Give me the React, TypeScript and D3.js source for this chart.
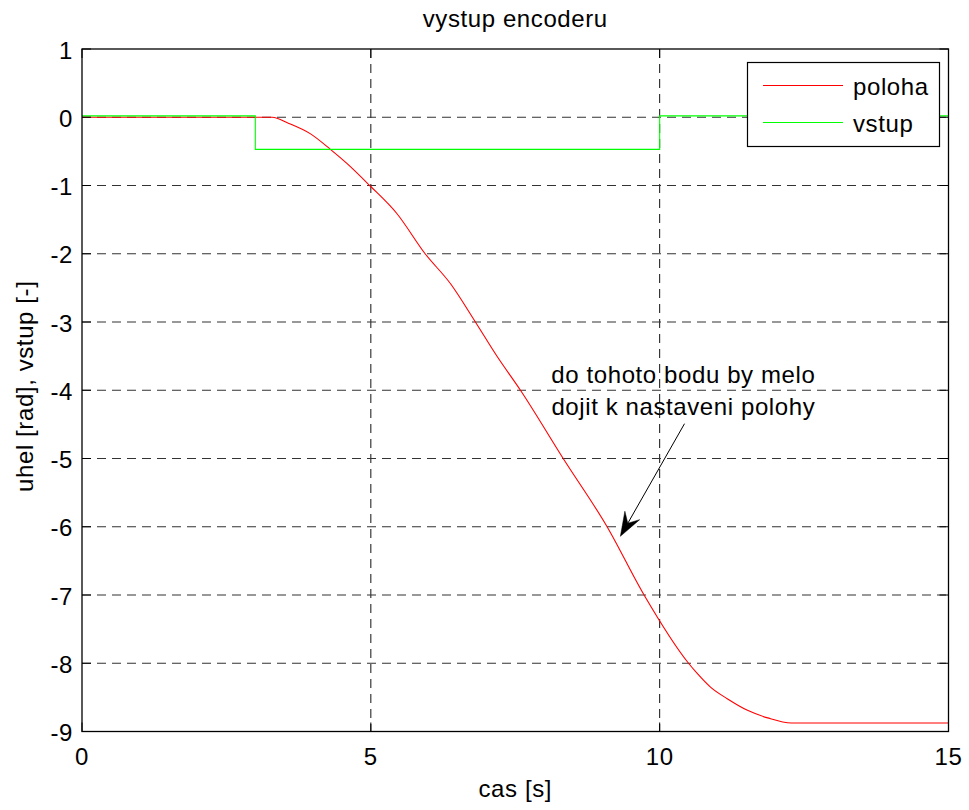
import React from "react";
import * as d3 from "d3";

// ---- data ----
const polohaT = [0, 3.29, 3.58, 3.95, 4.3, 4.59, 4.98, 5.45, 5.94, 6.38, 6.81, 7.19, 7.59, 8.33, 9.09, 9.73, 10.5, 10.65, 10.88, 11.17, 11.52, 11.87, 12.28, 15];
const polohaV = [0, 0, -0.09, -0.24, -0.47, -0.68, -1.0, -1.41, -2.0, -2.44, -3.0, -3.51, -4.0, -5.0, -6.0, -7.0, -8.0, -8.15, -8.35, -8.52, -8.69, -8.8, -8.875, -8.875];
const vstupT = [0, 3, 3, 10, 10, 15];
const vstupV = [0.02, 0.02, -0.47, -0.47, 0.02, 0.02];
const xTicks = [0, 5, 10, 15];
const yTicks = [-9, -8, -7, -6, -5, -4, -3, -2, -1, 0, 1];
const titleText = "vystup encoderu";
const xLabel = "cas [s]";
const yLabel = "uhel [rad], vstup [-]";
const legendLabels = ["poloha", "vstup"];
const annotationLines = ["do tohoto bodu by melo", "dojit k nastaveni polohy"];
const annotationTextPos = [10.41, -3.9]; // data coords of first-line baseline centre
const arrowFrom = [10.43, -4.49];
const arrowTo = [9.32, -6.14];

const W = 969;
const H = 810;
const L = 82, R = 948.5, T = 49, B = 731.5;
const FONT = "'Liberation Sans', Arial, Helvetica, sans-serif";
const RED = "#ff0000";
const GREEN = "#00ff00";

export default function App() {
  const x = d3.scaleLinear().domain([0, 15]).range([L, R]);
  const y = d3.scaleLinear().domain([-9, 1]).range([B, T]);
  const smooth = d3.line<[number, number]>().x((d) => x(d[0])).y((d) => y(d[1])).curve(d3.curveMonotoneX);
  const line = d3.line<[number, number]>().x((d) => x(d[0])).y((d) => y(d[1]));
  const poloha = polohaT.map((t, i) => [t, polohaV[i]] as [number, number]);
  const vstup = vstupT.map((t, i) => [t, vstupV[i]] as [number, number]);

  // arrow geometry
  const ax0 = x(arrowFrom[0]), ay0 = y(arrowFrom[1]);
  const ax1 = x(arrowTo[0]), ay1 = y(arrowTo[1]);
  const dx = ax1 - ax0, dy = ay1 - ay0;
  const len = Math.hypot(dx, dy);
  const ux = dx / len, uy = dy / len;
  const nx = -uy, ny = ux;
  const hl = 24, hw = 8.5, notch = 15;
  const b1 = [ax1 - ux * hl + nx * hw, ay1 - uy * hl + ny * hw];
  const b2 = [ax1 - ux * hl - nx * hw, ay1 - uy * hl - ny * hw];
  const nb = [ax1 - ux * notch, ay1 - uy * notch];
  const head = `M${ax1},${ay1}L${b1[0]},${b1[1]}L${nb[0]},${nb[1]}L${b2[0]},${b2[1]}Z`;

  const ls = 0.6;
  const tickLen = 9;

  return (
    <svg width={W} height={H} style={{ position: "absolute", left: 0, top: 0, background: "#fff" }} fontFamily={FONT}>
      <rect x={0} y={0} width={W} height={H} fill="#fff" />
      {/* grid */}
      {xTicks.filter((t) => t > 0 && t < 15).map((t) => (
        <line key={"gx" + t} x1={x(t)} x2={x(t)} y1={T} y2={B} stroke="#111" strokeWidth={1} strokeDasharray="9,6" />
      ))}
      {yTicks.filter((t) => t > -9 && t < 1).map((t) => (
        <line key={"gy" + t} x1={L} x2={R} y1={y(t)} y2={y(t)} stroke="#333" strokeWidth={1.2} strokeDasharray="9,6" />
      ))}
      {/* data */}
      <path d={smooth(poloha) || ""} fill="none" stroke={RED} strokeWidth={1.1} />
      <path d={line(vstup) || ""} fill="none" stroke={GREEN} strokeWidth={1.1} />
      {/* ticks */}
      {xTicks.map((t) => (
        <g key={"tx" + t}>
          <line x1={x(t)} x2={x(t)} y1={B} y2={B - tickLen} stroke="#000" />
          <line x1={x(t)} x2={x(t)} y1={T} y2={T + tickLen} stroke="#000" />
          <text x={x(t)} y={B + 33} textAnchor="middle" fontSize={24} letterSpacing={ls}>{t}</text>
        </g>
      ))}
      {yTicks.map((t) => (
        <g key={"ty" + t}>
          <line x1={L} x2={L + tickLen} y1={y(t)} y2={y(t)} stroke="#000" />
          <line x1={R} x2={R - tickLen} y1={y(t)} y2={y(t)} stroke="#000" />
          <text x={73} y={y(t) + 9.5} textAnchor="end" fontSize={24} letterSpacing={ls}>{t}</text>
        </g>
      ))}
      {/* box */}
      <rect x={L} y={T} width={R - L} height={B - T} fill="none" stroke="#000" strokeWidth={1.3} />
      {/* annotation */}
      {annotationLines.map((s, i) => (
        <text key={s} x={x(annotationTextPos[0])} y={y(annotationTextPos[1]) + i * 32} textAnchor="middle" fontSize={24} letterSpacing={ls}>{s}</text>
      ))}
      <line x1={ax0} y1={ay0} x2={nb[0]} y2={nb[1]} stroke="#000" strokeWidth={1} />
      <path d={head} fill="#000" stroke="#000" strokeWidth={0.5} />
      {/* legend */}
      <g>
        <rect x={747.5} y={62.5} width={192} height={84} fill="#fff" stroke="#000" strokeWidth={1.2} />
        {legendLabels.map((lab, i) => (
          <g key={lab}>
            <line x1={763} x2={843} y1={85.5 + i * 37} y2={85.5 + i * 37} stroke={i === 0 ? RED : GREEN} strokeWidth={1.1} />
            <text x={853} y={94.5 + i * 37} fontSize={24} letterSpacing={ls}>{lab}</text>
          </g>
        ))}
      </g>
      {/* labels */}
      <text x={(L + R) / 2} y={27} textAnchor="middle" fontSize={24} letterSpacing={ls}>{titleText}</text>
      <text x={(L + R) / 2} y={797} textAnchor="middle" fontSize={24} letterSpacing={ls}>{xLabel}</text>
      <text transform={`translate(33,${(T + B) / 2 - 4}) rotate(-90)`} textAnchor="middle" fontSize={24} letterSpacing={ls}>{yLabel}</text>
    </svg>
  );
}
